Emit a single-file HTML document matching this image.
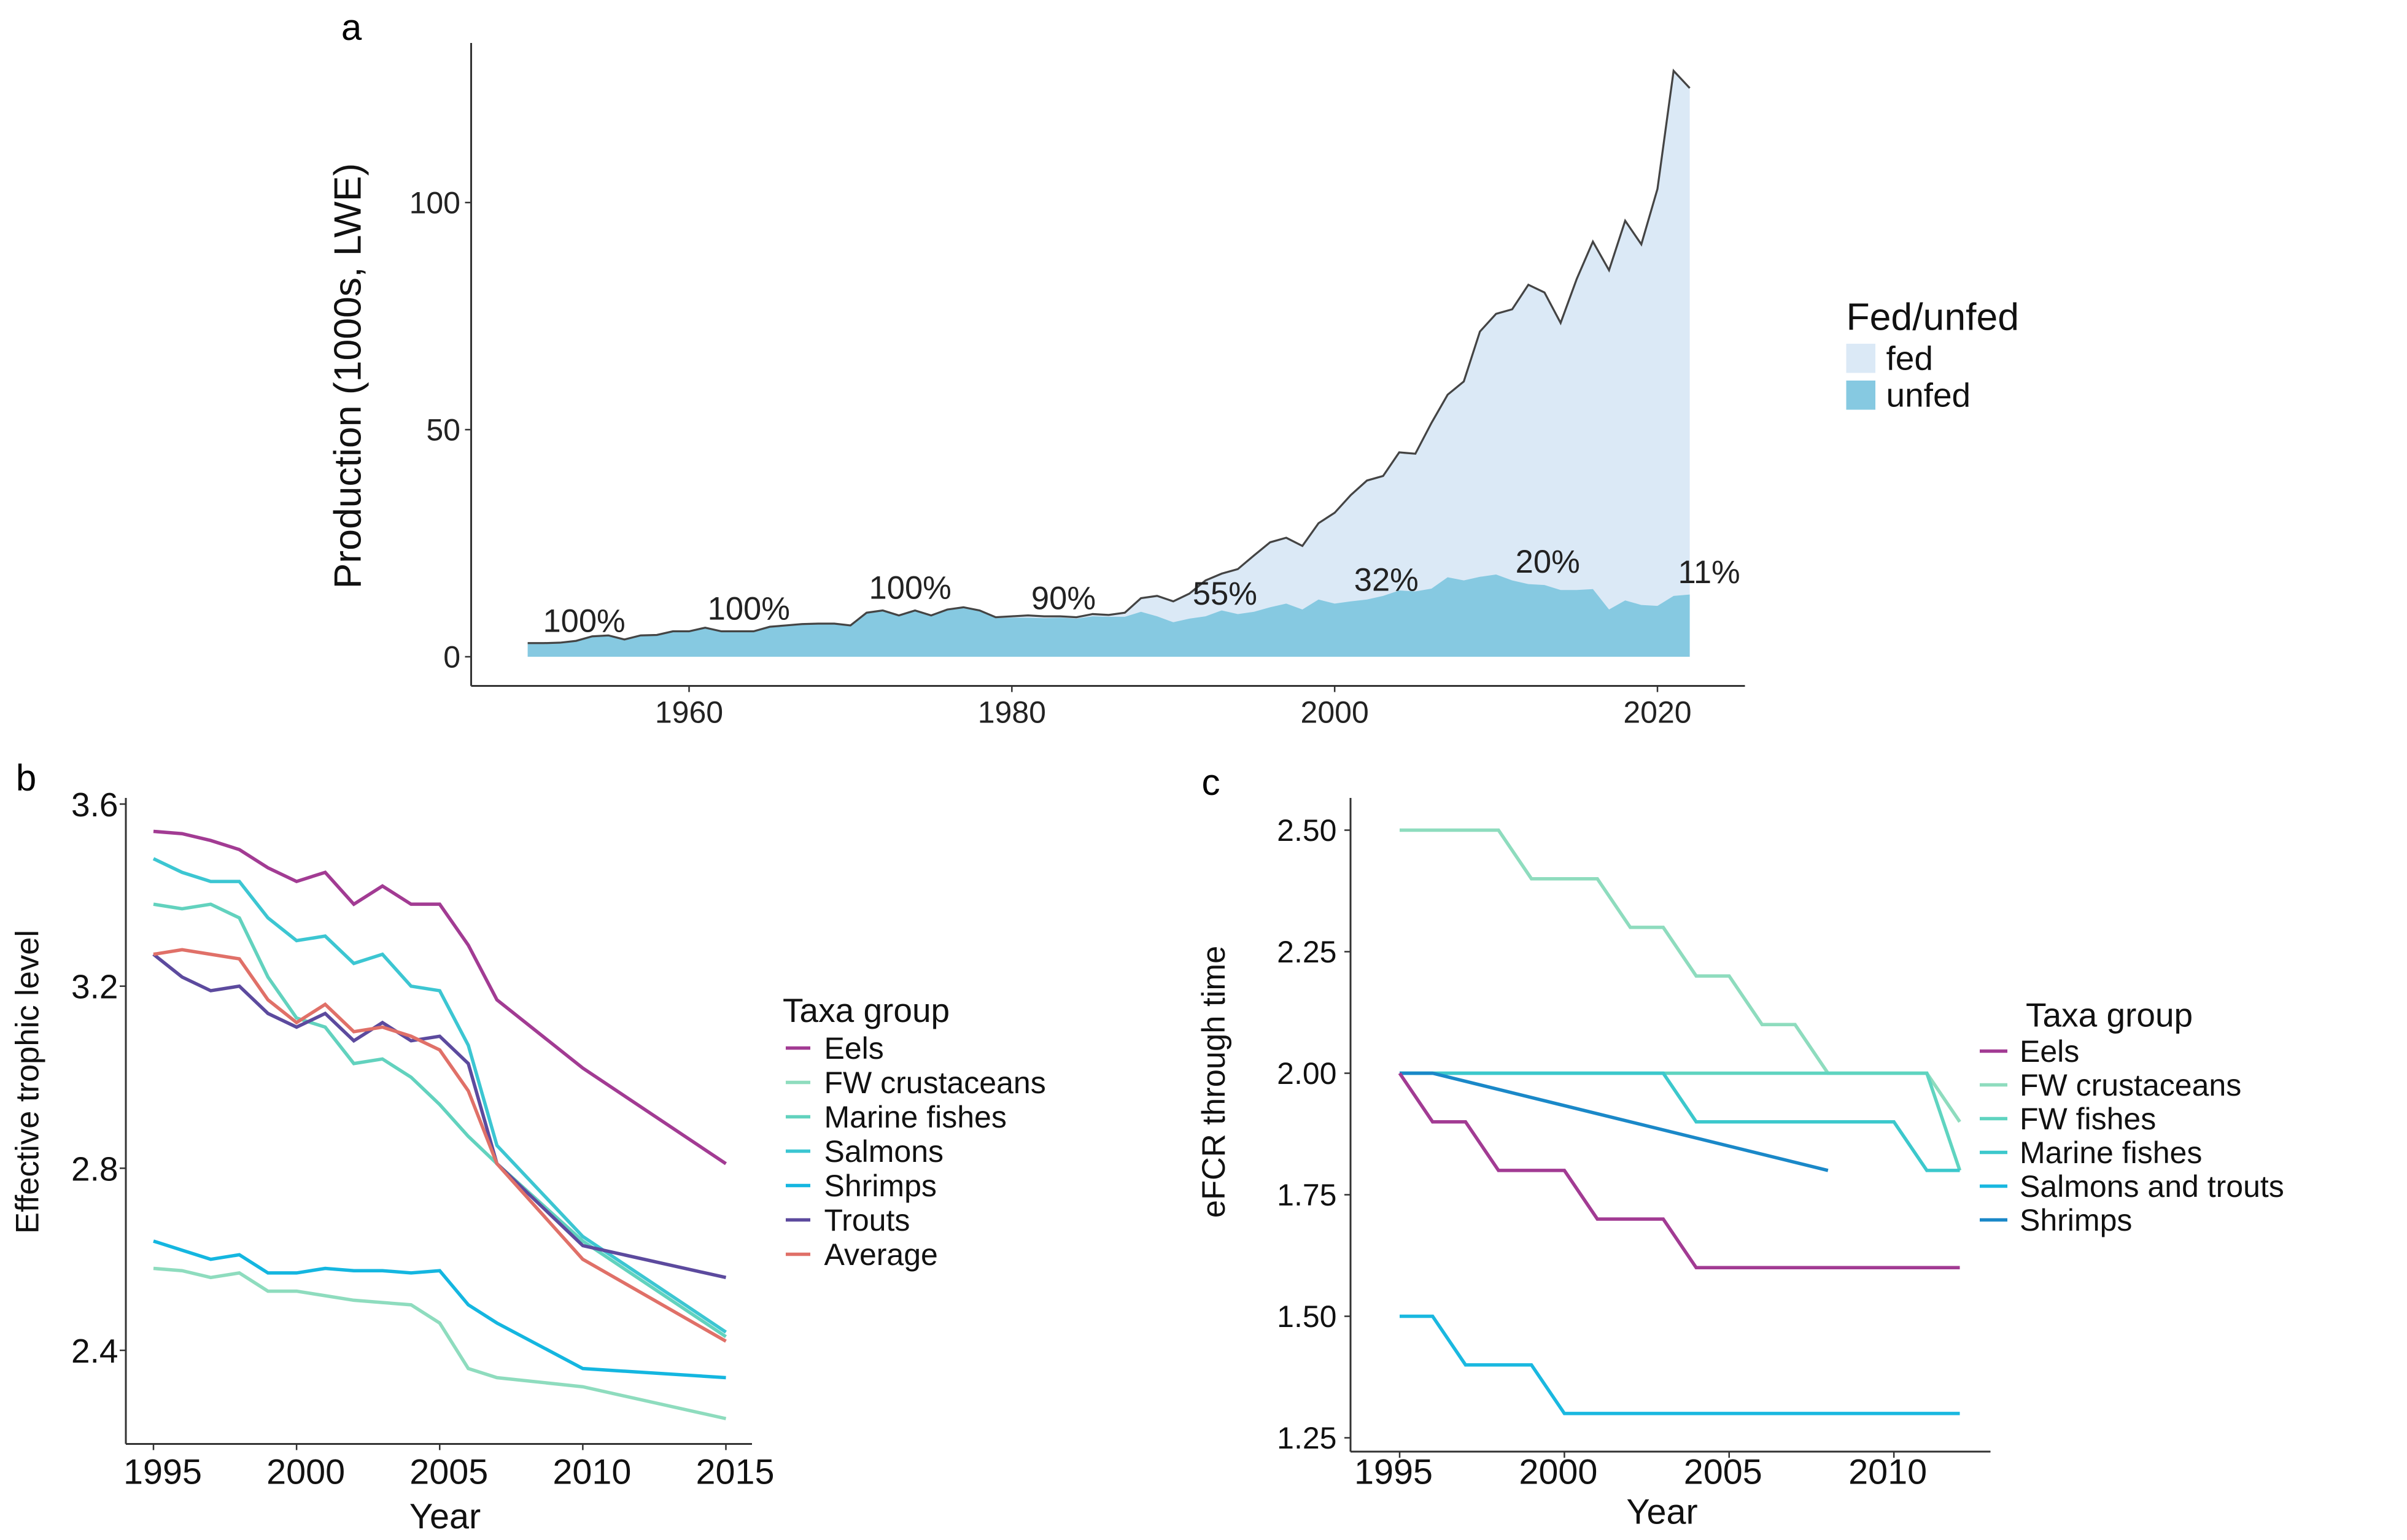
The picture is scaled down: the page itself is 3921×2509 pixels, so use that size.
<!DOCTYPE html>
<html><head><meta charset="utf-8"><style>
html,body{margin:0;padding:0;background:#fff;}
svg{display:block;font-family:"Liberation Sans",sans-serif;}
</style></head><body>
<svg id="fig" width="3921" height="2509" viewBox="0 0 1568.4 1003.6" xmlns="http://www.w3.org/2000/svg">
<g id="pa"></g>
<g id="pb"></g>
<g id="pc"></g>
</svg>
<script>
// ---- Panel a data
const aYears = [];
for (let y = 1950; y <= 2022; y++) aYears.push(y);
const aTotal = [3.0,3.0,3.1,3.5,4.5,4.7,3.8,4.7,4.8,5.6,5.6,6.4,5.6,5.6,5.6,6.6,6.9,7.2,7.3,7.3,6.9,9.7,10.2,9.1,10.2,9.1,10.4,10.9,10.2,8.7,8.9,9.1,8.9,8.9,8.7,9.4,9.2,9.7,12.9,13.4,12.2,13.9,16.8,18.3,19.3,22.3,25.2,26.2,24.4,29.4,31.7,35.6,38.8,39.8,45.0,44.7,51.5,57.7,60.6,71.6,75.5,76.5,81.9,80.2,73.5,83.2,91.4,85.1,96.0,90.8,103.0,129.0,125.2];
const aUnfed = [3.0,3.0,3.1,3.5,4.5,4.7,3.8,4.7,4.8,5.6,5.6,6.4,5.6,5.6,5.6,6.6,6.9,7.2,7.3,7.3,6.9,9.7,10.2,9.1,10.2,9.1,10.4,10.9,10.2,8.5,8.6,8.6,8.5,8.6,8.4,8.9,8.8,8.8,9.9,8.9,7.6,8.4,8.9,10.2,9.4,9.9,10.9,11.7,10.4,12.6,11.7,12.2,12.6,13.4,14.6,14.4,15.0,17.5,16.8,17.6,18.1,16.8,16.0,15.8,14.7,14.7,14.9,10.4,12.4,11.4,11.2,13.4,13.7];
const aPctLabels = ["100%","100%","100%","90%","55%","32%","20%","11%"];
const aPctYears = [1953.5,1963.7,1973.7,1983.2,1993.2,2003.2,2013.2,2023.2];
const aPctVals = [5.5,8.2,12.8,10.5,11.5,14.5,18.5,16.2];
const aXTicks = [1960,1980,2000,2020];
const aYTicks = [0,50,100];

// ---- Panel b data
const bYears = [1995,1996,1997,1998,1999,2000,2001,2002,2003,2004,2005,2006,2007,2010,2015];
const bNames = ["Eels","FW crustaceans","Marine fishes","Salmons","Shrimps","Trouts","Average"];
const bEels = [3.54,3.535,3.52,3.5,3.46,3.43,3.45,3.38,3.42,3.38,3.38,3.29,3.17,3.02,2.81];
const bFWCrust = [2.58,2.575,2.56,2.57,2.53,2.53,2.52,2.51,2.505,2.50,2.46,2.36,2.34,2.32,2.25];
const bMarine = [3.38,3.37,3.38,3.35,3.22,3.13,3.11,3.03,3.04,3.00,2.94,2.87,2.81,2.64,2.43];
const bSalmons = [3.48,3.45,3.43,3.43,3.35,3.30,3.31,3.25,3.27,3.20,3.19,3.07,2.85,2.65,2.44];
const bShrimps = [2.64,2.62,2.60,2.61,2.57,2.57,2.58,2.575,2.575,2.57,2.575,2.50,2.46,2.36,2.34];
const bTrouts = [3.27,3.22,3.19,3.20,3.14,3.11,3.14,3.08,3.12,3.08,3.09,3.03,2.81,2.63,2.56];
const bAverage = [3.27,3.28,3.27,3.26,3.17,3.12,3.16,3.10,3.11,3.09,3.06,2.97,2.81,2.60,2.42];
const bXTicks = [1995,2000,2005,2010,2015];
const bYTicks = [2.4,2.8,3.2,3.6];

// ---- Panel c data
const cNames = ["Eels","FW crustaceans","FW fishes","Marine fishes","Salmons and trouts","Shrimps"];
const cEelsX = [1995,1996,1997,1998,2000,2001,2003,2004,2012];
const cEelsY = [2.0,1.9,1.9,1.8,1.8,1.7,1.7,1.6,1.6];
const cCrustX = [1995,1998,1999,2001,2002,2003,2004,2005,2006,2007,2008,2011,2012];
const cCrustY = [2.5,2.5,2.4,2.4,2.3,2.3,2.2,2.2,2.1,2.1,2.0,2.0,1.9];
const cFishX = [1995,2011,2012];
const cFishY = [2.0,2.0,1.8];
const cMarineX = [1995,2003,2004,2010,2011,2012];
const cMarineY = [2.0,2.0,1.9,1.9,1.8,1.8];
const cSalmX = [1995,1996,1997,1999,2000,2012];
const cSalmY = [1.5,1.5,1.4,1.4,1.3,1.3];
const cShrX = [1995,1996,2008];
const cShrY = [2.0,2.0,1.8];
const cXTicks = [1995,2000,2005,2010];
const cYTicks = [1.25,1.5,1.75,2.0,2.25,2.5];
const cYTickLabels = ["1.25","1.50","1.75","2.00","2.25","2.50"];

const NS = "http://www.w3.org/2000/svg";
function mk(parent, tag, attrs, txt) {
  const e = document.createElementNS(NS, tag);
  for (const k in attrs) e.setAttribute(k, attrs[k]);
  if (txt !== undefined) e.textContent = txt;
  parent.appendChild(e);
  return e;
}

// ===== Panel a =====
(function(){
  const g = document.getElementById('pa');
  const ax = y => 449 + (y - 1960) * (1080 - 449) / 60;
  const ay = v => 428 - v * (428 - 132) / 100;
  let t = mk(g,'text',{x:229,y:26,'font-size':24,'text-anchor':'middle'},'a');
   
  let d = 'M' + ax(aYears[0]) + ',' + ay(0);
  aYears.forEach((y,i)=>{ d += ' L' + ax(y) + ',' + ay(aTotal[i]); });
  d += ' L' + ax(aYears[aYears.length-1]) + ',' + ay(0) + ' Z';
  let p = mk(g,'path',{d:d,fill:'#dbe9f6'});
   
  d = 'M' + ax(aYears[0]) + ',' + ay(0);
  aYears.forEach((y,i)=>{ d += ' L' + ax(y) + ',' + ay(aUnfed[i]); });
  d += ' L' + ax(aYears[aYears.length-1]) + ',' + ay(0) + ' Z';
  p = mk(g,'path',{d:d,fill:'#86c9e1'});
   
  d = '';
  aYears.forEach((y,i)=>{ d += (i?' L':'M') + ax(y) + ',' + ay(aTotal[i]); });
  p = mk(g,'path',{d:d,fill:'none',stroke:'#444',"stroke-width":1.3});
   
  aPctLabels.forEach((s,i)=>{
    const e = mk(g,'text',{x:ax(aPctYears[i]),y:ay(aPctVals[i]),'font-size':21,'text-anchor':'middle',fill:'#222'},s);
     
  });
  let l = mk(g,'line',{x1:307,y1:28,x2:307,y2:447,stroke:'#333','stroke-width':1.2});
   
  l = mk(g,'line',{x1:307,y1:447,x2:1137,y2:447,stroke:'#333','stroke-width':1.2});
   
  aYTicks.forEach(v=>{
    mk(g,'line',{x1:303,y1:ay(v),x2:307,y2:ay(v),stroke:'#333'});
    const e = mk(g,'text',{x:300,y:ay(v)+7,'font-size':20,'text-anchor':'end',fill:'#222'},String(v));
     
  });
  aXTicks.forEach(v=>{
    mk(g,'line',{x1:ax(v),y1:447,x2:ax(v),y2:451,stroke:'#333'});
    const e = mk(g,'text',{x:ax(v),y:471,'font-size':20,'text-anchor':'middle',fill:'#222'},String(v));
     
  });
  t = mk(g,'text',{x:0,y:0,'font-size':25,'text-anchor':'middle',transform:'translate(235,245) rotate(-90)',fill:'#111'},'Production (1000s, LWE)');
   
  t = mk(g,'text',{x:1203,y:215,'font-size':25,fill:'#111'},'Fed/unfed');
   
  let r = mk(g,'rect',{x:1203,y:224,width:19,height:19,fill:'#dbe9f6'});
   
  t = mk(g,'text',{x:1229,y:241,'font-size':22,fill:'#111'},'fed');
   
  r = mk(g,'rect',{x:1203,y:248,width:19,height:19,fill:'#86c9e1'});
   
  t = mk(g,'text',{x:1229,y:265,'font-size':22,fill:'#111'},'unfed');
   
})();

// ===== Panel b =====
(function(){
  const g = document.getElementById('pb');
  const bx = y => 100 + (y - 1995) * (473 - 100) / 20;
  const byy = v => 524 + (3.6 - v) * (880 - 524) / 1.2;
  let t = mk(g,'text',{x:17,y:515,'font-size':24,'text-anchor':'middle'},'b');
   
  let l = mk(g,'line',{x1:82,y1:520,x2:82,y2:941,stroke:'#333','stroke-width':1.2});
   
  l = mk(g,'line',{x1:82,y1:941,x2:490,y2:941,stroke:'#333','stroke-width':1.2});
   
  bYTicks.forEach(v=>{
    mk(g,'line',{x1:78,y1:byy(v),x2:82,y2:byy(v),stroke:'#333'});
    const e = mk(g,'text',{x:77,y:byy(v)+8,'font-size':22,'text-anchor':'end',fill:'#111'},v.toFixed(1));
     
  });
  bXTicks.forEach(v=>{
    mk(g,'line',{x1:bx(v),y1:941,x2:bx(v),y2:945,stroke:'#333'});
    const e = mk(g,'text',{x:bx(v)+6,y:967,'font-size':23,'text-anchor':'middle',fill:'#111'},String(v));
     
  });
  t = mk(g,'text',{x:290,y:996,'font-size':23,'text-anchor':'middle',fill:'#111'},'Year');
   
  t = mk(g,'text',{x:0,y:0,'font-size':21,'text-anchor':'middle',transform:'translate(25,705) rotate(-90)',fill:'#111'},'Effective trophic level');
   
  const series = [bEels,bFWCrust,bMarine,bSalmons,bShrimps,bTrouts,bAverage];
  const colors = ['#a23b93','#8edcbe','#62d2be','#3cc6d2','#14b6e0','#5c4a9e','#e07068'];
  series.forEach((s,k)=>{
    let d='';
    bYears.forEach((y,i)=>{ d += (i?' L':'M') + bx(y) + ',' + byy(s[i]); });
    const p = mk(g,'path',{d:d,fill:'none',stroke:colors[k],'stroke-width':2.2});
    
    
  });
  t = mk(g,'text',{x:510,y:666,'font-size':22,fill:'#111'},'Taxa group');
   
  bNames.forEach((n,k)=>{
    const yy = 683 + k*22.4;
    const ln = mk(g,'line',{x1:512,y1:yy,x2:528,y2:yy,stroke:colors[k],'stroke-width':2.2});
     
    const e = mk(g,'text',{x:537,y:yy+7,'font-size':20,fill:'#111'},n);
     
  });
})();

// ===== Panel c =====
(function(){
  const g = document.getElementById('pc');
  const cx = y => 912 + (y - 1995) * (1277 - 912) / 17;
  const cy = v => 541 + (2.5 - v) * (937 - 541) / 1.25;
  let t = mk(g,'text',{x:789,y:518,'font-size':24,'text-anchor':'middle'},'c');
   
  let l = mk(g,'line',{x1:880,y1:520,x2:880,y2:946,stroke:'#333','stroke-width':1.2});
   
  l = mk(g,'line',{x1:880,y1:946,x2:1297,y2:946,stroke:'#333','stroke-width':1.2});
   
  cYTicks.forEach((v,i)=>{
    mk(g,'line',{x1:876,y1:cy(v),x2:880,y2:cy(v),stroke:'#333'});
    const e = mk(g,'text',{x:871,y:cy(v)+7,'font-size':20,'text-anchor':'end',fill:'#111'},cYTickLabels[i]);
     
  });
  cXTicks.forEach(v=>{
    mk(g,'line',{x1:cx(v),y1:946,x2:cx(v),y2:950,stroke:'#333'});
    const e = mk(g,'text',{x:cx(v)-4,y:967,'font-size':23,'text-anchor':'middle',fill:'#111'},String(v));
     
  });
  t = mk(g,'text',{x:1083,y:993,'font-size':23,'text-anchor':'middle',fill:'#111'},'Year');
   
  t = mk(g,'text',{x:0,y:0,'font-size':21,'text-anchor':'middle',transform:'translate(798,705) rotate(-90)',fill:'#111'},'eFCR through time');
   
  const xs = [cEelsX,cCrustX,cFishX,cMarineX,cSalmX,cShrX];
  const ys = [cEelsY,cCrustY,cFishY,cMarineY,cSalmY,cShrY];
  const colors = ['#a23b93','#8edcbe','#5fd4c0','#3cc8cc','#1ab8e0','#1a88c8'];
  [1,2,3,4,5,0].forEach(k=>{
    let d='';
    xs[k].forEach((x,i)=>{ d += (i?' L':'M') + cx(x) + ',' + cy(ys[k][i]); });
    const p = mk(g,'path',{d:d,fill:'none',stroke:colors[k],'stroke-width':2.2});
    
    
  });
  t = mk(g,'text',{x:1320,y:669,'font-size':22,fill:'#111'},'Taxa group');
   
  cNames.forEach((n,k)=>{
    const yy = 685 + k*22;
    const ln = mk(g,'line',{x1:1290,y1:yy,x2:1308,y2:yy,stroke:colors[k],'stroke-width':2.2});
     
    const e = mk(g,'text',{x:1316,y:yy+7,'font-size':20,fill:'#111'},n);
     
  });
})();
</script>
</body></html>
